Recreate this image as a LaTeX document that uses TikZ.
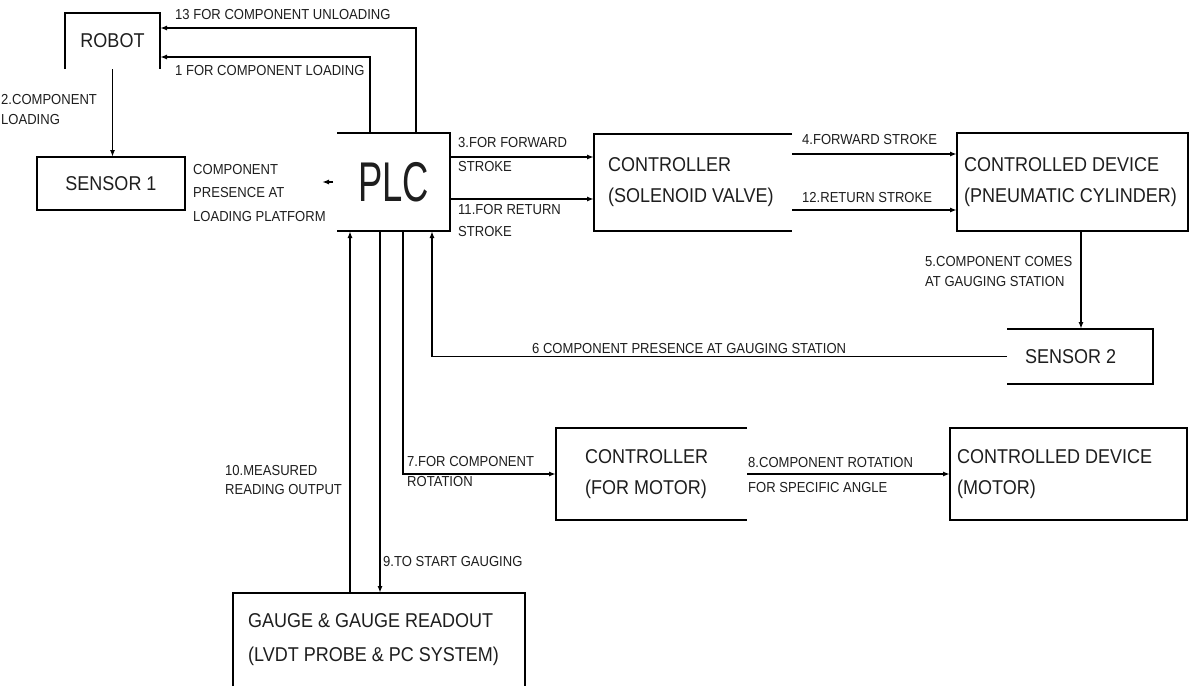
\documentclass[tikz,border=0pt]{standalone}
\usepackage{fontspec}
\setmainfont[FakeStretch=0.9]{Liberation Sans}
\newfontfamily\plcfont[FakeStretch=0.65]{Liberation Sans}
\usetikzlibrary{arrows.meta,calc}
\definecolor{ink}{RGB}{30,30,30}
\begin{document}
\begin{tikzpicture}[x=1pt,y=-1pt,
  box/.style={rectangle,inner sep=0pt,outer sep=0pt,text=ink,align=center,font=\fontsize{20}{31}\selectfont},
  edge/.style={line width=1.9pt},
  conn/.style={line width=1.7pt,-{Latex[length=7pt,width=5pt]}},
  boxtext/.style={inner sep=0pt,anchor=west,align=left,text=ink,font=\fontsize{20}{31}\selectfont},
  lbl/.style={inner sep=0pt,align=left,anchor=west,text=ink,font=\fontsize{14.5}{20}\selectfont}]
\useasboundingbox[fill=white] (0,0) rectangle (1189,686);

% ---- boxes ----
\node[box,minimum width=95pt,minimum height=56pt] (robot) at (112.5,41) {ROBOT};
\node[box,minimum width=148pt,minimum height=53pt] (sensor1) at (111,183.5) {SENSOR 1};
\node[box,minimum width=113pt,minimum height=98pt] (plc) at (393.5,182) {\plcfont\fontsize{56}{56}\selectfont PLC};
\node[box,minimum width=198pt,minimum height=97pt] (ctl1) at (693,182.5) {};
\node[boxtext] (ctl1t) at ([xshift=14pt]ctl1.west) {CONTROLLER\\(SOLENOID VALVE)};
\node[box,minimum width=231pt,minimum height=98pt] (dev1) at (1072.5,182) {};
\node[boxtext] (dev1t) at ([xshift=7pt]dev1.west) {CONTROLLED DEVICE\\(PNEUMATIC CYLINDER)};
\node[box,minimum width=146pt,minimum height=55pt] (sensor2) at (1080,356.5) {};
\node[boxtext] (sensor2t) at ([xshift=18pt]sensor2.west) {SENSOR 2};
\node[box,minimum width=191pt,minimum height=92pt] (ctl2) at (651.5,474) {};
\node[boxtext] (ctl2t) at ([xshift=29pt]ctl2.west) {CONTROLLER\\(FOR MOTOR)};
\node[box,minimum width=237pt,minimum height=92pt] (dev2) at (1068.5,474) {};
\node[boxtext] (dev2t) at ([xshift=7pt]dev2.west) {CONTROLLED DEVICE\\(MOTOR)};
\node[box,minimum width=292pt,minimum height=93pt] (gauge) at (379,639.5) {};
\node[boxtext,font=\fontsize{20}{34}\selectfont] (gauget) at ([xshift=15pt]gauge.west) {GAUGE \& GAUGE READOUT\\(LVDT PROBE \& PC SYSTEM)};

% ---- box outlines (as visible) ----
\draw[edge] (robot.south west) -- (robot.north west) -- (robot.north east) -- (robot.south east);
\draw[edge] (sensor1.north west) rectangle (sensor1.south east);
\draw[edge] (plc.north west) -- (plc.north east) -- (plc.south east) -- (plc.south west);
\draw[edge] (ctl1.north east) -- (ctl1.north west) -- (ctl1.south west) -- (ctl1.south east);
\draw[edge] (dev1.north west) rectangle (dev1.south east);
\draw[edge] (sensor2.north west) -- (sensor2.north east) -- (sensor2.south east) -- (sensor2.south west);
\draw[edge] (ctl2.north east) -- (ctl2.north west) -- (ctl2.south west) -- (ctl2.south east);
\draw[edge] (dev2.north west) rectangle (dev2.south east);
\draw[edge] (gauge.south west) -- (gauge.north west) -- (gauge.north east) -- (gauge.south east);

% ---- attachment points ----
\coordinate (p13) at ([xshift=22.5pt]plc.north);
\coordinate (p1) at ([xshift=-23.5pt]plc.north);
\coordinate (p3) at ([yshift=25pt]plc.east);
\coordinate (p11) at ([yshift=-17pt]plc.east);
\coordinate (p4) at ([yshift=28.5pt]ctl1.east);
\coordinate (p12) at ([yshift=-27.5pt]ctl1.east);
\coordinate (p5) at ([xshift=8.5pt]dev1.south);
\coordinate (p6) at ([xshift=38.5pt]plc.south);
\coordinate (p7) at ([xshift=9.5pt]plc.south);
\coordinate (p9) at ([xshift=-13.5pt]plc.south);
\coordinate (p10) at ([xshift=-43.5pt]plc.south);
\coordinate (s1end) at (322,182);

% ---- connectors ----
\draw[conn] (p13) |- ([yshift=13pt]robot.east);
\draw[conn] (p1) |- ([yshift=-16pt]robot.east);
\draw[conn] (robot.south) -- (robot.south |- sensor1.north);
\draw[conn] ([xshift=-4pt]plc.west) -- (s1end);
\draw[conn] (p3) -- (p3 -| ctl1.west);
\draw[conn] (p11) -- (p11 -| ctl1.west);
\draw[conn] (p4) -- (p4 -| dev1.west);
\draw[conn] (p12) -- (p12 -| dev1.west);
\draw[conn] (p5) -- (p5 |- sensor2.north);
\draw[conn] (sensor2.west) -| (p6);
\draw[conn] (p7) |- (ctl2.west);
\draw[conn] (ctl2.east) -- (dev2.west);
\draw[conn] (p9) -- (p9 |- gauge.north);
\draw[conn] (p10 |- gauge.north) -- (p10);

% ---- labels ----
\node[lbl] (l13) at (175,15) {13 FOR COMPONENT UNLOADING};
\node[lbl] (l1) at (175,71) {1 FOR COMPONENT LOADING};
\node[lbl] (l2) at (1,110) {2.COMPONENT\\LOADING};
\node[lbl,font=\fontsize{14.5}{23.5}\selectfont] (ls1) at (193,193) {COMPONENT\\PRESENCE AT\\LOADING PLATFORM};
\node[lbl,font=\fontsize{14.5}{24}\selectfont] (l3) at (458,155) {3.FOR FORWARD\\STROKE};
\node[lbl,font=\fontsize{14.5}{22}\selectfont] (l11) at (458,221) {11.FOR RETURN\\STROKE};
\node[lbl] (l4) at (802,140) {4.FORWARD STROKE};
\node[lbl] (l12) at (802,198) {12.RETURN STROKE};
\node[lbl] (l5) at (925,272) {5.COMPONENT COMES\\AT GAUGING STATION};
\node[lbl] (l6) at (532,349) {6 COMPONENT PRESENCE AT GAUGING STATION};
\node[lbl] (l7) at (407,472) {7.FOR COMPONENT\\ROTATION};
\node[lbl,font=\fontsize{14.5}{25}\selectfont] (l8) at (748,475) {8.COMPONENT ROTATION\\FOR SPECIFIC ANGLE};
\node[lbl,font=\fontsize{14.5}{19}\selectfont] (l10) at (225,480) {10.MEASURED\\READING OUTPUT};
\node[lbl] (l9) at (383,561) {9.TO START GAUGING};
\end{tikzpicture}
\end{document}
